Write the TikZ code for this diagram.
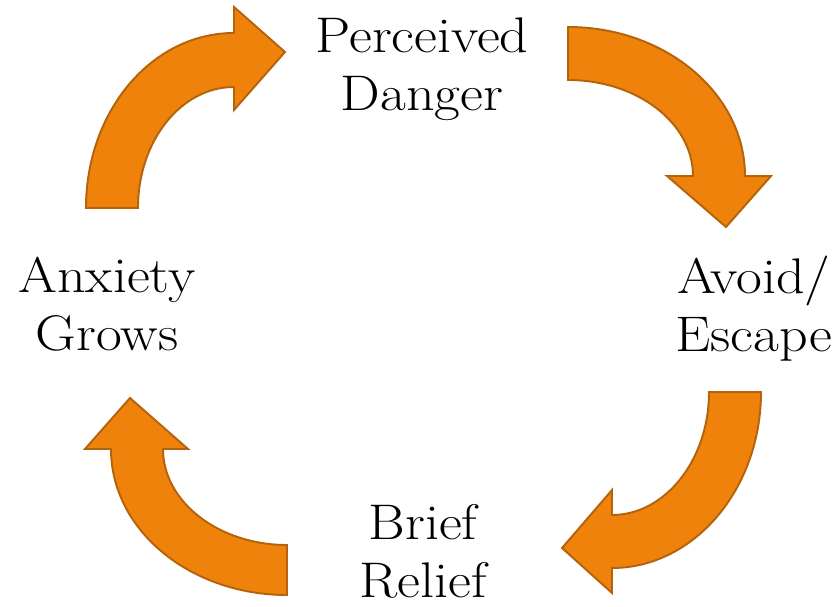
\documentclass[tikz,border=0pt]{standalone}
\usepackage{fontspec}
\usepackage{tikz}
\newfontfamily\widefont{Latin Modern Roman}[FakeStretch=1.12]
\definecolor{arrowfill}{RGB}{239,130,10}
\definecolor{arrowline}{RGB}{180,98,12}

\begin{document}
\begin{tikzpicture}[x=0.02cm,y=-0.02cm,
    cyclearrow/.style={fill=arrowfill,draw=arrowline,line width=1.1pt,line join=miter},
    steplabel/.style={align=center,inner sep=0pt,font=\widefont\fontsize{28.5}{33}\selectfont}]
  \useasboundingbox (0,0) rectangle (838,607);
  % labels
  \node[steplabel] (danger) at (422,69) {Perceived\\Danger};
  \node[steplabel] (escape) at (754,309) {Avoid/\\Escape};
  \node[steplabel] (relief) at (423,551) {Brief\\Relief};
  \node[steplabel] (anxiety) at (107,304) {Anxiety\\Grows};
  % top left
  \draw[cyclearrow] (86,208) .. controls (86,111) and (152,33) .. (234,33)
    -- (234,7) -- (285,52) -- (234,110) -- (234,87)
    .. controls (181,87) and (138,141) .. (138,208) -- cycle;
  % top right
  \draw[cyclearrow] (568,27) .. controls (666,27) and (745,94) .. (745,176)
    -- (771,176) -- (726,227) -- (667,176) -- (693,176)
    .. controls (693,123) and (637,80) .. (568,80) -- cycle;
  % bottom right
  \draw[cyclearrow] (761,392) .. controls (761,489) and (694,568) .. (612,568)
    -- (612,593) -- (562,548) -- (612,490) -- (612,515)
    .. controls (665,515) and (709,460) .. (709,392) -- cycle;
  % bottom left
  \draw[cyclearrow] (287,595) .. controls (190,595) and (111,530) .. (111,449)
    -- (85,449) -- (130,398) -- (188,449) -- (163,449)
    .. controls (163,502) and (219,545) .. (287,545) -- cycle;
\end{tikzpicture}
\end{document}
